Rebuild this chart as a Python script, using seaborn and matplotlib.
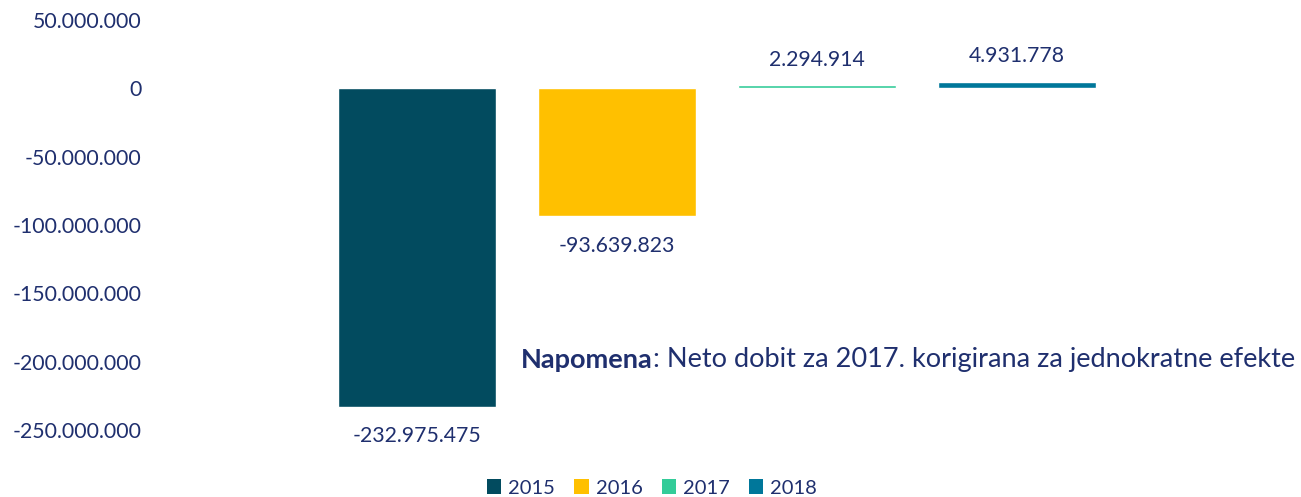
import matplotlib
matplotlib.use('Agg')
import matplotlib.pyplot as plt
import seaborn as sns
import pandas as pd
from matplotlib.patches import Patch

godine = ['2015', '2016', '2017', '2018']
neto_dobit = [-232975475, -93639823, 2294914, 4931778]
boje = ['#024B5F', '#FFC000', '#33CC99', '#00779A']
y_ticks = [50000000, 0, -50000000, -100000000, -150000000, -200000000, -250000000]

tekst_boja = '#1F2F6E'

sns.set_theme(style='white')
plt.rcParams['font.family'] = ['Lato', 'DejaVu Sans']


def formatiraj(v):
    return f'{v:,.0f}'.replace(',', '.')


dados = pd.DataFrame({'godina': godine, 'vrijednost': neto_dobit})

fig = plt.figure(figsize=(13.01, 4.97), dpi=100)
ax = fig.add_axes([150 / 1301, 1 - 430 / 497, (1284 - 150) / 1301, 410 / 497])

sns.barplot(data=dados, x='godina', y='vrijednost', hue='godina',
            palette=boje, width=0.79, legend=False, ax=ax, saturation=1)

ax.set_xlim((150 - 417) / 200, (1284 - 417) / 200)
ax.set_ylim(-250000000, 50000000)
ax.set_yticks(y_ticks)
ax.set_yticklabels([formatiraj(t) for t in y_ticks], color=tekst_boja, fontsize=15.3)
ax.tick_params(axis='y', length=0, pad=6)
ax.set_xticks([])
ax.set_xlabel('')
ax.set_ylabel('')
for s in ax.spines.values():
    s.set_visible(False)

# oznake vrijednosti iznad/ispod stupaca
for kontejner in ax.containers:
    vrijednosti = [b.get_height() for b in kontejner]
    oznake = [formatiraj(v) for v in vrijednosti]
    pad = 11 if vrijednosti[0] > 0 else 14
    ax.bar_label(kontejner, labels=oznake, padding=pad, color=tekst_boja, fontsize=15.3)

# napomena: masni dio + obicni tekst
x0, y0 = 521 / 1301, 1 - 360 / 497
t = fig.text(x0, y0, 'Napomena', fontsize=19.5, fontweight='bold',
             color=tekst_boja, va='center', ha='left')
fig.canvas.draw()
sirina = t.get_window_extent().width / 1301
fig.text(x0 + sirina, y0,
         ': Neto dobit za 2017. korigirana za jednokratne efekte',
         fontsize=19.5, color=tekst_boja, va='center', ha='left')

rucke = [Patch(facecolor=b, edgecolor='none') for b in boje]
fig.legend(rucke, godine, loc='center', bbox_to_anchor=(652 / 1301, 1 - 488 / 497),
           ncol=4, frameon=False, fontsize=14.5, labelcolor=tekst_boja,
           handlelength=0.7, handleheight=0.7, handletextpad=0.35,
           columnspacing=0.95)

fig.savefig('out.png', dpi=100)
